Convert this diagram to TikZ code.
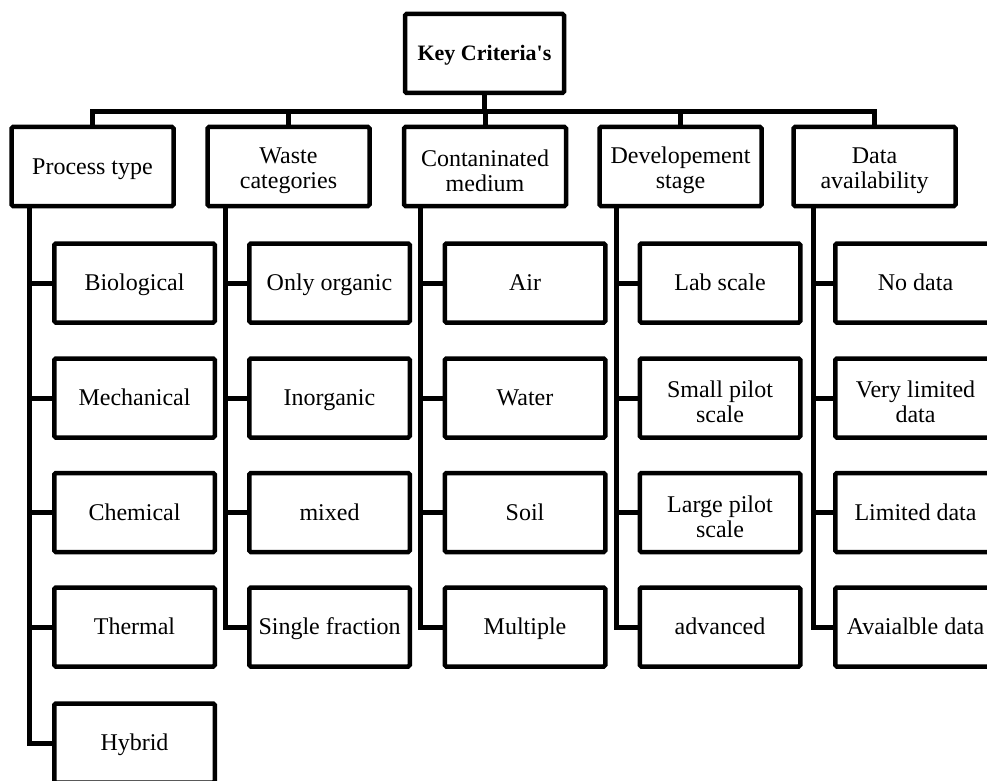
\documentclass[tikz,border=0pt]{standalone}
\usepackage{fontspec}
\setmainfont{Liberation Serif}
\begin{document}
\begin{tikzpicture}[x=1pt,y=-1pt,
  box/.style={draw,line width=4.5pt,rounded corners=1.5pt,minimum width=160.5pt,minimum height=79pt,inner sep=0pt,align=center,fill=white,font=\fontsize{24}{25}\selectfont},
  one/.style={box,text height=18pt,text depth=3pt},
  txt/.style={inner sep=0pt,align=center,font=\fontsize{24}{25}\selectfont},
  topbox/.style={minimum width=162pt},
  conn/.style={line width=5pt,line join=miter}]
\useasboundingbox (0,0) rectangle (987,781);
\clip (0,0) rectangle (987,781);
% root
\node[one,minimum width=159pt,font=\fontsize{22}{24}\selectfont\bfseries] (root) at (484.5,53.5) {Key Criteria\textquotesingle s};
% top level
\node[one,topbox] (p) at (92.5,166.5) {Process type};
\node[box,topbox] (w) at (288.5,166.5) {};
\node[txt] (wt) at ([yshift=-4pt]w.center) {Waste\\categories};
\node[box,topbox] (m) at (485,166.5) {};
\node[txt] (mt) at ([yshift=-4pt]m.center) {Contaninated\\medium};
\node[box,topbox] (d) at (680.5,166.5) {};
\node[txt] (dt) at ([yshift=-4pt]d.center) {Developement\\stage};
\node[box,topbox] (a) at (874.5,166.5) {};
\node[txt] (at) at ([yshift=-4pt]a.center) {Data\\availability};
% children
\node[one] (p1) at (134.5,283) {Biological};
\node[one] (p2) at (134.5,398) {Mechanical};
\node[one] (p3) at (134.5,512.5) {Chemical};
\node[one] (p4) at (134.5,627) {Thermal};
\node[one] (p5) at (134.5,743) {Hybrid};
\node[one] (w1) at (329.5,283) {Only organic};
\node[one] (w2) at (329.5,398) {Inorganic};
\node[one] (w3) at (329.5,512.5) {mixed};
\node[one] (w4) at (329.5,627) {Single fraction};
\node[one] (m1) at (525,283) {Air};
\node[one] (m2) at (525,398) {Water};
\node[one] (m3) at (525,512.5) {Soil};
\node[one] (m4) at (525,627) {Multiple};
\node[one] (d1) at (720,283) {Lab scale};
\node[box] (d2) at (720,398) {};
\node[txt] (d2t) at ([yshift=-4pt]d2.center) {Small pilot\\scale};
\node[box] (d3) at (720,512.5) {};
\node[txt] (d3t) at ([yshift=-4pt]d3.center) {Large pilot\\scale};
\node[one] (d4) at (720,627) {advanced};
\node[one] (a1) at (915.5,283) {No data};
\node[box] (a2) at (915.5,398) {};
\node[txt] (a2t) at ([yshift=-4pt]a2.center) {Very limited\\data};
\node[one] (a3) at (915.5,512.5) {Limited data};
\node[one] (a4) at (915.5,627) {Avaialble data};
% bus
\coordinate (bus) at (0,112);
\draw[conn] (root.south) -- (root.south |- bus);
\draw[conn] (p.north) -- (p.north |- bus) -- (a.north |- bus) -- (a.north);
\draw[conn] (w.north |- bus) -- (w.north);
\draw[conn] (m.north |- bus) -- (m.north);
\draw[conn] (d.north |- bus) -- (d.north);
% column verticals
\coordinate (pv) at (29,206);
\coordinate (wv) at (225,206);
\coordinate (mv) at (420,206);
\coordinate (dv) at (616,206);
\coordinate (av) at (813,206);
\draw[conn] (pv) |- (p5.west);
\foreach \n in {p1,p2,p3,p4} \draw[conn] (pv |- \n.west) -- (\n.west);
\draw[conn] (wv) |- (w4.west);
\foreach \n in {w1,w2,w3} \draw[conn] (wv |- \n.west) -- (\n.west);
\draw[conn] (mv) |- (m4.west);
\foreach \n in {m1,m2,m3} \draw[conn] (mv |- \n.west) -- (\n.west);
\draw[conn] (dv) |- (d4.west);
\foreach \n in {d1,d2,d3} \draw[conn] (dv |- \n.west) -- (\n.west);
\draw[conn] (av) |- (a4.west);
\foreach \n in {a1,a2,a3} \draw[conn] (av |- \n.west) -- (\n.west);
\end{tikzpicture}
\end{document}
